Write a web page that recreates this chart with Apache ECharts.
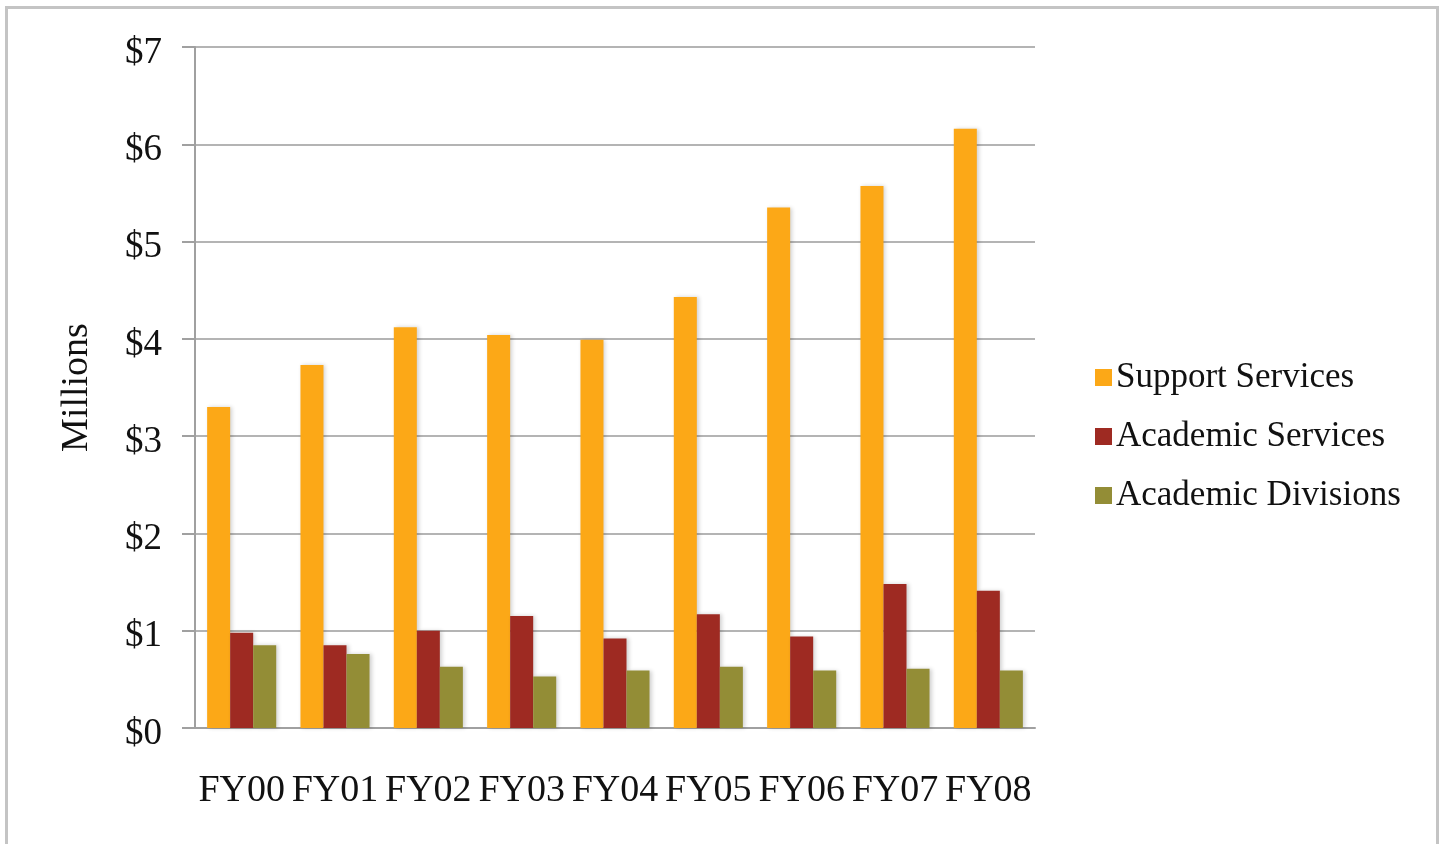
<!DOCTYPE html>
<html>
  <head>
    <meta charset="utf-8" />
    <title>Budget by area</title>
    <script src="https://cdn.jsdelivr.net/npm/echarts@6.0.0/dist/echarts.min.js"></script>
    <style>
      body {
        margin: 0;
        background: #fff;
      }
      #frame {
        position: absolute;
        left: 5px;
        top: 6px;
        width: 1428px;
        height: 860px;
        border: 3px solid #c4c4c4;
      }
      #chart {
        position: absolute;
        left: 0;
        top: 0;
        width: 1440px;
        height: 844px;
      }
    </style>
  </head>
<body>
  <div id="frame"></div>
  <div id="chart"></div>

  <script type="text/javascript">
var years = ['FY00', 'FY01', 'FY02', 'FY03', 'FY04', 'FY05', 'FY06', 'FY07', 'FY08'];
var supportServices = [3.30, 3.73, 4.12, 4.04, 3.99, 4.43, 5.35, 5.57, 6.16];
var academicServices = [0.98, 0.85, 1.00, 1.15, 0.92, 1.17, 0.94, 1.48, 1.41];
var academicDivisions = [0.85, 0.76, 0.63, 0.53, 0.59, 0.63, 0.59, 0.61, 0.59];

var font = 'Liberation Serif';
var barShadow = {
  shadowColor: 'rgba(0,0,0,0.18)',
  shadowBlur: 4,
  shadowOffsetX: 2
};

var myChart = echarts.init(document.getElementById('chart'));
var option = {
  animation: false,
  textStyle: { fontFamily: font },
  grid: {
    left: 195,
    top: 47,
    width: 840,
    height: 681
  },
  legend: {
    orient: 'vertical',
    left: 1090,
    top: 355,
    itemWidth: 17,
    itemHeight: 17,
    itemGap: 24,
    icon: 'rect',
    textStyle: {
      fontFamily: font,
      fontSize: 35,
      color: '#111',
      lineHeight: 35,
      padding: [0, 0, 0, -1]
    },
    data: ['Support Services', 'Academic Services', 'Academic Divisions']
  },
  xAxis: {
    type: 'category',
    data: years,
    axisLine: { lineStyle: { color: '#a0a0a0', width: 2 } },
    axisTick: { length: 10, lineStyle: { color: '#a0a0a0', width: 2 } },
    axisLabel: {
      interval: 0,
      hideOverlap: false,
      color: '#111',
      fontFamily: font,
      fontSize: 38,
      margin: 44
    }
  },
  yAxis: {
    type: 'value',
    min: 0,
    max: 7,
    interval: 1,
    name: 'Millions',
    nameLocation: 'middle',
    nameGap: 99,
    nameTextStyle: {
      fontFamily: font,
      fontSize: 38,
      color: '#111'
    },
    axisLine: { show: true, lineStyle: { color: '#a0a0a0', width: 2 } },
    axisTick: { show: true, length: 13, lineStyle: { color: '#a0a0a0', width: 2 } },
    splitLine: { lineStyle: { color: '#b4b4b4', width: 2 } },
    axisLabel: {
      margin: 33,
      formatter: function (v) {
        return '{d|$' + v + '}';
      },
      rich: {
        d: {
          color: '#111',
          fontFamily: font,
          fontSize: 37,
          padding: [12, 0, 0, 0]
        }
      }
    }
  },
  series: [
    {
      name: 'Support Services',
      type: 'bar',
      data: supportServices,
      barGap: '0%',
      barCategoryGap: '26%',
      itemStyle: Object.assign({ color: '#fca817' }, barShadow)
    },
    {
      name: 'Academic Services',
      type: 'bar',
      data: academicServices,
      itemStyle: Object.assign({ color: '#9e2a22' }, barShadow)
    },
    {
      name: 'Academic Divisions',
      type: 'bar',
      data: academicDivisions,
      itemStyle: Object.assign({ color: '#938d36' }, barShadow)
    }
  ]
};

option && myChart.setOption(option);
</script>
</body>
</html>
